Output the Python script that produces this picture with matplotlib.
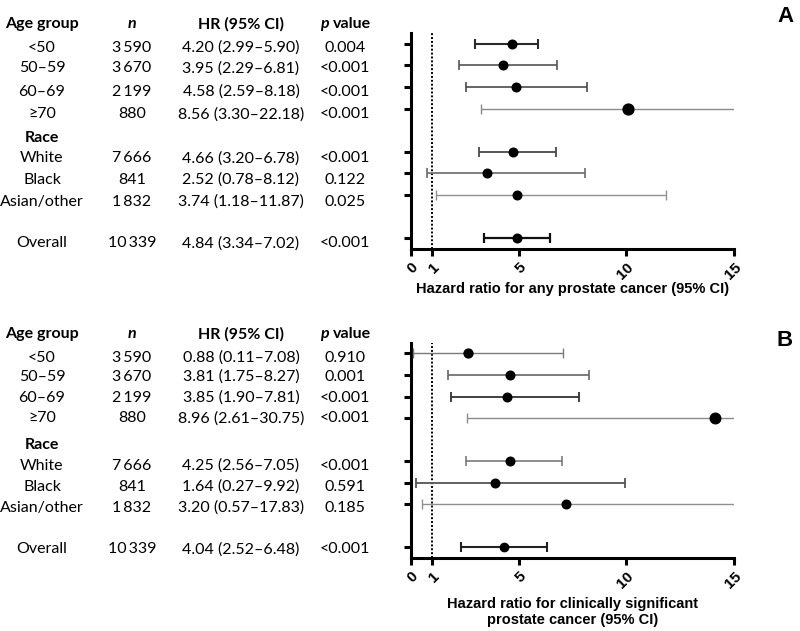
import matplotlib
matplotlib.use("Agg")
import matplotlib.pyplot as plt

# ---------------- data ----------------
row_labels = ["<50", "50–59", "60–69", "≥70", "White", "Black", "Asian/other", "Overall"]
group_headers = ["Race"]
n_values = ["3\u2009590", "3\u2009670", "2\u2009199", "880", "7\u2009666", "841", "1\u2009832", "10\u2009339"]

hr_text_a = ["4.20 (2.99–5.90)", "3.95 (2.29–6.81)", "4.58 (2.59–8.18)", "8.56 (3.30–22.18)",
             "4.66 (3.20–6.78)", "2.52 (0.78–8.12)", "3.74 (1.18–11.87)", "4.84 (3.34–7.02)"]
p_text_a = ["0.004", "<0.001", "<0.001", "<0.001", "<0.001", "0.122", "0.025", "<0.001"]

hr_text_b = ["0.88 (0.11–7.08)", "3.81 (1.75–8.27)", "3.85 (1.90–7.81)", "8.96 (2.61–30.75)",
             "4.25 (2.56–7.05)", "1.64 (0.27–9.92)", "3.20 (0.57–17.83)", "4.04 (2.52–6.48)"]
p_text_b = ["0.910", "0.001", "<0.001", "<0.001", "<0.001", "0.591", "0.185", "<0.001"]

# plotted points
hr_a = [4.70, 4.28, 4.87, 10.09, 4.74, 3.55, 4.93, 4.93]
lo_a = [2.98, 2.24, 2.58, 3.26, 3.17, 0.76, 1.16, 3.41]
hi_a = [5.89, 6.78, 8.17, 22.18, 6.74, 8.10, 11.85, 6.47]

hr_b = [2.66, 4.60, 4.48, 14.10, 4.60, 3.92, 7.19, 4.33]
lo_b = [0.11, 1.74, 1.87, 2.61, 2.56, 0.25, 0.52, 2.32]
hi_b = [7.06, 8.27, 7.80, 30.75, 7.03, 9.92, 17.83, 6.32]

x_ticks = [0, 1, 5, 10, 15]
xlabel_a = "Hazard ratio for any prostate cancer (95% CI)"
xlabel_b = "Hazard ratio for clinically significant\nprostate cancer (95% CI)"

# ---------------- styling ----------------
W, H = 800, 631
fig = plt.figure(figsize=(W / 100, H / 100), dpi=100)

row_pos = [0, 1, 2, 3, 5, 6, 7, 9]
line_col_a = ["#2a2a2a", "#555555", "#4a4a4a", "#8a8a8a", "#4a4a4a", "#6a6a6a", "#8f8f8f", "#111111"]
line_w_a = [1.5, 1.2, 1.2, 1.0, 1.3, 1.2, 1.0, 1.6]
msize_a = [6.2, 6.2, 6.2, 7.8, 6.2, 6.2, 6.2, 6.2]
line_col_b = ["#7a7a7a", "#666666", "#333333", "#8a8a8a", "#707070", "#555555", "#8f8f8f", "#222222"]
line_w_b = [1.0, 1.2, 1.3, 1.0, 1.1, 1.3, 1.0, 1.5]
msize_b = [6.4, 6.2, 6.2, 7.6, 6.2, 6.2, 6.2, 6.0]

axfont = ["Liberation Sans", "DejaVu Sans"]
tabfont = ["Lato", "DejaVu Sans"]


def px_axes(x0, y0, x1, y1):
    return fig.add_axes([x0 / W, 1 - y1 / H, (x1 - x0) / W, (y1 - y0) / H])


def forest(ax, hr, lo, hi, cols, lws, msz, xlabel, label_y):
    for i, y in enumerate(row_pos):
        ax.errorbar([hr[i]], [y], xerr=[[hr[i] - lo[i]], [hi[i] - hr[i]]],
                    fmt="o", color="black", ecolor=cols[i], elinewidth=lws[i],
                    capsize=3.3, capthick=lws[i], markersize=msz[i], zorder=3)
    ax.axvline(1, color="black", lw=1.4, ls=(0, (1, 1)), zorder=2)
    ax.set_xlim(0, 15)
    ax.set_ylim(9.5, -0.5)
    ax.set_yticks(row_pos)
    ax.set_yticklabels([])
    ax.set_xticks(x_ticks)
    ax.set_xticklabels([str(t) for t in x_ticks], rotation=45, ha="right",
                       rotation_mode="anchor", family=axfont, fontweight="bold", fontsize=11)
    for s in ["top", "right"]:
        ax.spines[s].set_visible(False)
    for s in ["left", "bottom"]:
        ax.spines[s].set_linewidth(2.2)
    ax.tick_params(axis="both", direction="out", length=5, width=2.2, pad=3)
    for lab in ax.get_xticklabels():
        lab.set_x(lab.get_position()[0])
    ax.set_xlabel(xlabel, family=axfont, fontweight="bold", fontsize=10.5,
                  linespacing=1.2, va="center")
    ax.xaxis.set_label_coords(0.5, label_y)
    ax.patch.set_alpha(0)


ax_a = px_axes(410.7, 33, 734.3, 249)
forest(ax_a, hr_a, lo_a, hi_a, line_col_a, line_w_a, msize_a, xlabel_a, (249 - 289) / 216)
ax_b = px_axes(410.7, 342.7, 734.3, 558)
forest(ax_b, hr_b, lo_b, hi_b, line_col_b, line_w_b, msize_b, xlabel_b, (558 - 612) / 215.3)

# ---------------- tables ----------------
col_x = [42, 132, 241, 345]
tfs = 11.5


def tx(x, y, s, **kw):
    fig.text(x / W, 1 - y / H, s, ha="center", va="center", family=tabfont, fontsize=tfs, **kw)


def table(y_header, y_rows, y_race, hr_text, p_text):
    tx(col_x[0], y_header, "Age group", fontweight="bold")
    tx(col_x[1], y_header, "n", fontweight="bold", style="italic")
    tx(col_x[2], y_header, "HR (95% CI)", fontweight="bold")
    fig.text((col_x[3] - 25) / W, 1 - y_header / H, "p", ha="left", va="center",
             family=tabfont, fontsize=tfs, fontweight="bold", style="italic")
    fig.text((col_x[3] - 12) / W, 1 - y_header / H, "value", ha="left", va="center",
             family=tabfont, fontsize=tfs, fontweight="bold")
    tx(col_x[0], y_race, group_headers[0], fontweight="bold")
    for i, y in enumerate(y_rows):
        tx(col_x[0], y, row_labels[i])
        tx(col_x[1], y, n_values[i])
        tx(col_x[2], y, hr_text[i])
        tx(col_x[3], y, p_text[i])


table(24, [47.7, 68.5, 91.5, 114.3, 158.3, 180, 201.7, 243.3], 137.7, hr_text_a, p_text_a)
table(334, [357.7, 376.7, 397.7, 418.3, 465.7, 486.7, 507.7, 549.3], 445, hr_text_b, p_text_b)

fig.text(785 / W, 1 - 17 / H, "A", ha="center", va="center", family=axfont,
         fontweight="bold", fontsize=16)
fig.text(785 / W, 1 - 340 / H, "B", ha="center", va="center", family=axfont,
         fontweight="bold", fontsize=16)

fig.savefig("out.png", dpi=100)
